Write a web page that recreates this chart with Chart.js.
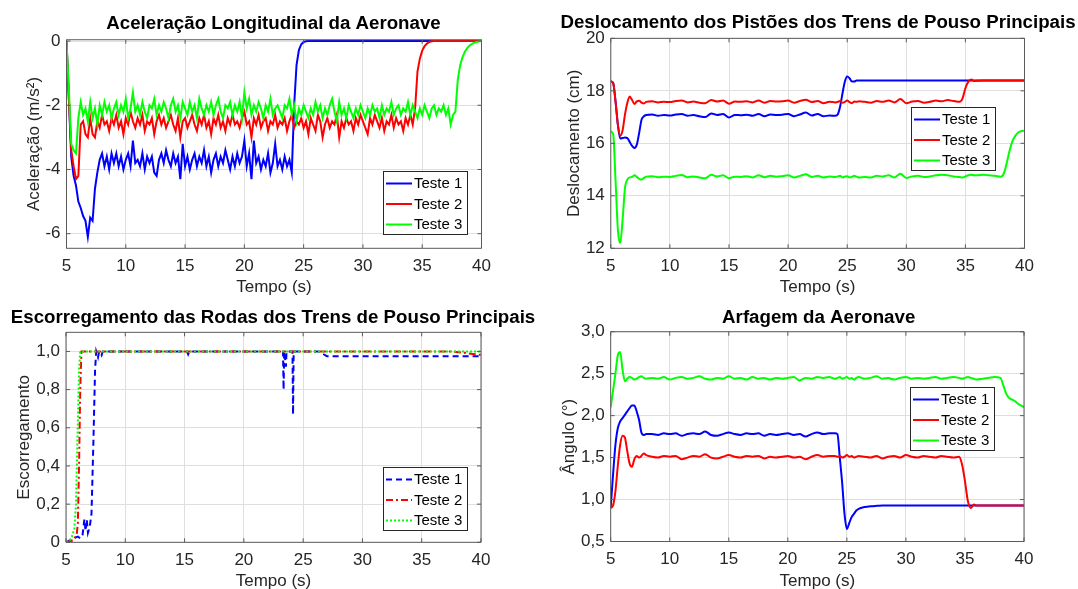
<!DOCTYPE html>
<html>
<head>
<meta charset="utf-8">
<script src="https://cdn.jsdelivr.net/npm/chart.js@4.4.0/dist/chart.umd.min.js"></script>
<style>
  html, body { margin: 0; padding: 0; background: #fff; overflow: hidden; }
  body { width: 1078px; height: 589px; position: relative; }
  canvas { position: absolute; }
</style>
</head>
<body>
<canvas id="c1" width="540" height="300" style="left:0;top:0"></canvas>
<canvas id="c2" width="538" height="300" style="left:540px;top:0"></canvas>
<canvas id="c3" width="540" height="300" style="left:0;top:295px"></canvas>
<canvas id="c4" width="538" height="300" style="left:540px;top:295px"></canvas>
<script>
/* 2x2 MATLAB-style figure: landing tests 1-3 */
const FONT = '"Liberation Sans", Arial, Helvetica, sans-serif';
const BLUE = '#0000ff', RED = '#ff0000', GREEN = '#00ff00';
const GRID = '#dfdfdf', AXIS = '#262626', BOX = '#5a5a5a';

const seriesNames = ['Teste 1', 'Teste 2', 'Teste 3'];
const timeTicks = [5, 10, 15, 20, 25, 30, 35, 40];

/* --- Aceleração longitudinal (m/s²), sampled every 0.2 s --- */
const tAcc = [5,5.2,5.4,5.6,5.8,6,6.2,6.4,6.6,6.8, 7,7.2,7.4,7.6,7.8,8,8.2,8.4,8.6,8.8,
  9,9.2,9.4,9.6,9.8,10,10.2,10.4,10.6,10.8, 11,11.2,11.4,11.6,11.8,12,12.2,12.4,12.6,12.8,
  13,13.2,13.4,13.6,13.8,14,14.2,14.4,14.6,14.8, 15,15.2,15.4,15.6,15.8,16,16.2,16.4,16.6,16.8,
  17,17.2,17.4,17.6,17.8,18,18.2,18.4,18.6,18.8, 19,19.2,19.4,19.6,19.8,20,20.2,20.4,20.6,20.8,
  21,21.2,21.4,21.6,21.8,22,22.2,22.4,22.6,22.8, 23,23.2,23.4,23.6,23.8,24,24.2,24.4,24.6,24.8,
  25,25.2,25.4,25.6,25.8,26,26.2,26.4,26.6,26.8, 27,27.2,27.4,27.6,27.8,28,28.2,28.4,28.6,28.8,
  29,29.2,29.4,29.6,29.8,30,30.2,30.4,30.6,30.8, 31,31.2,31.4,31.6,31.8,32,32.2,32.4,32.6,32.8,
  33,33.2,33.4,33.6,33.8,34,34.2,34.4,34.6,34.8, 35,35.2,35.4,35.6,35.8,36,36.2,36.4,36.6,36.8,
  37,37.2,37.4,37.6,37.8,38,38.2,38.4,38.6,38.8, 39,39.2,39.4,39.6,39.8,40];
const acc1 = [0,-1.8,-3.6,-4.2,-4.5,-5.0,-5.2,-5.45,-5.6,-6.1,
  -5.5,-5.6,-4.6,-4.1,-3.7,-3.5,-3.9,-3.6,-4.0,-3.5,
  -3.8,-3.5,-3.9,-3.6,-4.0,-3.7,-3.5,-3.9,-3.1,-3.8,
  -3.7,-3.9,-3.5,-4.0,-3.6,-3.8,-3.6,-4.1,-4.2,-3.7,
  -3.5,-3.8,-3.4,-3.7,-3.9,-3.5,-3.8,-3.6,-4.3,-3.2,
  -3.9,-3.6,-4.0,-3.7,-3.5,-3.9,-3.6,-3.8,-3.4,-3.9,
  -3.6,-4.1,-3.7,-3.5,-3.9,-3.6,-3.8,-3.4,-3.7,-4.0,
  -3.6,-3.9,-3.5,-3.8,-3.6,-3.1,-3.9,-3.5,-4.3,-3.1,
  -3.8,-3.6,-4.0,-3.7,-3.9,-3.5,-4.1,-3.8,-3.2,-3.9,
  -3.7,-4.0,-3.6,-3.9,-3.7,-4.1,-2.0,-0.75,-0.28,-0.1,
  -0.03,-0.01,0,0,0,0,0,0,0,0,
  0,0,0,0,0,0,0,0,0,0, 0,0,0,0,0,0,0,0,0,0, 0,0,0,0,0,0,0,0,0,0,
  0,0,0,0,0,0,0,0,0,0, 0,0,0,0,0,0,0,0,0,0, 0,0,0,0,0,0,0,0,0,0,
  0,0,0,0,0,0];
const acc2 = [0,-1.8,-3.4,-3.9,-4.3,-4.2,-2.6,-2.5,-2.9,-3.0,
  -2.4,-2.9,-3.0,-2.5,-2.7,-2.3,-2.6,-2.5,-2.8,-2.4,
  -2.6,-2.3,-2.7,-2.5,-2.9,-2.4,-2.6,-2.2,-2.5,-2.7,
  -2.4,-2.6,-2.3,-2.8,-2.5,-2.6,-2.4,-2.9,-2.5,-2.3,
  -2.6,-2.4,-2.7,-2.5,-2.3,-2.6,-2.8,-2.4,-3.0,-2.5,
  -2.4,-2.7,-2.5,-2.3,-2.6,-2.8,-2.4,-2.6,-2.3,-2.7,
  -2.5,-2.9,-2.4,-2.6,-2.3,-2.7,-2.5,-2.8,-2.4,-2.6,
  -2.3,-2.6,-2.5,-2.7,-2.4,-2.2,-2.6,-2.5,-3.0,-2.4,
  -2.6,-2.3,-2.7,-2.5,-2.4,-2.8,-2.5,-2.6,-2.3,-2.7,
  -2.5,-2.6,-2.4,-2.8,-2.5,-2.3,-2.7,-2.5,-2.6,-2.4,
  -2.7,-2.5,-2.9,-2.4,-2.6,-2.8,-2.3,-2.5,-3.0,-2.6,
  -2.4,-2.7,-2.5,-2.6,-2.3,-3.0,-2.5,-2.7,-2.4,-2.6,
  -2.5,-2.8,-2.4,-2.6,-2.3,-2.5,-2.7,-2.9,-2.4,-2.6,
  -2.3,-2.5,-2.7,-2.4,-2.8,-2.5,-2.6,-2.3,-2.7,-2.4,
  -2.6,-2.5,-2.8,-2.4,-2.6,-2.3,-2.6,-2.1,-0.95,-0.55,
  -0.3,-0.16,-0.08,-0.03,-0.01,0,0,0,0,0,
  0,0,0,0,0,0,0,0,0,0,
  0,0,0,0,0,0];
const acc3 = [0,-1.5,-3.2,-3.4,-3.5,-2.4,-1.9,-2.3,-2.1,-2.5,
  -1.9,-2.4,-2.1,-2.6,-2.0,-2.3,-1.9,-2.2,-2.0,-2.4,
  -2.1,-1.9,-2.3,-2.0,-2.2,-1.8,-2.4,-2.1,-1.6,-2.2,
  -2.0,-2.3,-1.9,-2.2,-2.4,-2.0,-2.1,-1.8,-2.3,-2.0,
  -2.2,-1.9,-2.1,-2.4,-2.0,-1.8,-2.2,-2.0,-2.4,-1.9,
  -2.1,-2.3,-1.9,-2.2,-2.0,-2.4,-1.8,-2.1,-2.3,-2.0,
  -2.2,-1.9,-2.3,-2.0,-1.8,-2.2,-2.4,-2.0,-2.1,-1.9,
  -2.3,-2.0,-2.2,-1.9,-2.4,-1.6,-2.1,-1.8,-2.3,-2.0,
  -2.2,-1.9,-2.1,-2.4,-2.0,-2.2,-1.8,-2.3,-2.1,-2.0,
  -2.2,-2.4,-2.0,-2.1,-1.8,-2.3,-2.0,-2.5,-2.1,-2.3,
  -2.0,-2.2,-2.4,-2.1,-2.3,-1.9,-2.2,-2.0,-2.4,-2.1,
  -2.3,-2.0,-1.8,-2.2,-2.5,-1.9,-2.3,-2.1,-2.4,-2.0,
  -2.2,-2.4,-2.1,-2.3,-2.0,-2.2,-2.4,-2.1,-2.3,-2.0,
  -2.2,-2.1,-2.4,-2.0,-2.3,-2.1,-2.2,-1.9,-2.3,-2.1,
  -2.0,-2.3,-2.1,-2.2,-1.9,-2.3,-2.0,-2.2,-2.4,-2.1,
  -2.3,-2.0,-2.2,-2.4,-2.1,-2.0,-2.3,-2.1,-2.2,-2.0,
  -2.3,-2.1,-2.6,-2.3,-2.2,-1.2,-0.75,-0.5,-0.33,-0.22,
  -0.14,-0.09,-0.05,-0.03,-0.01,0];
const accTicks = [-6, -4, -2, 0];
const accLabels = ['-6', '-4', '-2', '0'];

/* --- time base shared by the smooth signals (piston, pitch) --- */
const tSmooth = [5,5.2,5.4,5.6,5.8,6,6.2,6.4,6.6,6.8,7,7.2,7.4,7.6,7.8,8,
  8.5,9,9.5,10,10.5,11,11.5,12,12.5,13,13.5,14,14.5,15,15.5,16,16.5,17,17.5,18,18.5,19,19.5,20,20.5,21,21.5,22,22.5,23,23.5,24,
  24.2,24.4,24.6,24.8,25,25.2,25.4,25.6,25.8,26,
  26.5,27,27.5,28,28.5,29,29.5,30,30.5,31,31.5,32,32.5,33,33.5,34,34.5,
  34.75,35,35.25,35.5,35.75,36,
  36.5,37,37.5,38,
  38.25,38.5,38.75,39,39.25,39.5,39.75,40];

/* --- Deslocamento dos pistões (cm) --- */
const disp1 = [18.36,18.3,17.6,16.7,16.18,16.2,16.22,16.2,16.05,15.9,15.82,15.95,16.4,16.9,17.03,17.08,
  17.1,17.05,17.08,17.06,17.1,17.12,17.05,17.08,17.03,17.0,17.14,17.08,17.12,16.98,17.08,17.07,
  17.09,17.05,17.12,17.03,17.1,17.08,17.09,17.12,17.03,17.1,17.17,17.06,17.12,17.03,17.06,17.05,
  17.1,17.4,17.9,18.35,18.55,18.48,18.36,18.36,18.39,18.39,
  18.39,18.39,18.39,18.39,18.39,18.39,18.39,18.39,18.39,18.39,18.39,18.39,18.39,18.39,18.39,18.39,18.39,
  18.39,18.39,18.39,18.39,18.39,18.39,
  18.39,18.39,18.39,18.39,
  18.39,18.39,18.39,18.39,18.39,18.39,18.39,18.39];
const disp2 = [18.36,18.3,17.6,16.7,16.3,16.5,17.1,17.55,17.78,17.65,17.5,17.6,17.62,17.55,17.52,17.58,
  17.6,17.56,17.58,17.57,17.61,17.63,17.56,17.59,17.55,17.53,17.65,17.59,17.63,17.51,17.59,17.58,
  17.6,17.56,17.63,17.55,17.61,17.59,17.6,17.63,17.55,17.61,17.66,17.57,17.61,17.53,17.58,17.56,
  17.58,17.61,17.55,17.58,17.63,17.57,17.53,17.59,17.58,17.6,
  17.58,17.55,17.61,17.58,17.63,17.56,17.69,17.53,17.59,17.61,17.55,17.58,17.63,17.6,17.65,17.61,17.58,
  17.7,18.1,18.35,18.43,18.37,18.38,
  18.39,18.39,18.39,18.39,
  18.39,18.39,18.39,18.39,18.39,18.39,18.39,18.39];
const disp3 = [16.45,16.35,14.6,12.7,12.2,13.1,14.3,14.62,14.7,14.72,14.78,14.72,14.65,14.62,14.68,14.73,
  14.75,14.71,14.73,14.72,14.76,14.79,14.71,14.74,14.7,14.67,14.8,14.74,14.78,14.67,14.73,14.72,
  14.75,14.7,14.78,14.71,14.76,14.73,14.75,14.78,14.7,14.76,14.82,14.72,14.76,14.7,14.74,14.72,
  14.74,14.76,14.7,14.73,14.75,14.7,14.72,14.76,14.73,14.7,
  14.72,14.7,14.76,14.74,14.78,14.7,14.84,14.68,14.74,14.76,14.72,14.74,14.78,14.8,14.78,14.74,14.72,
  14.7,14.74,14.78,14.8,14.78,14.78,
  14.8,14.78,14.76,14.73,
  14.85,15.25,15.75,16.1,16.3,16.42,16.47,16.48];
const dispTicks = [12, 14, 16, 18, 20];
const dispLabels = ['12', '14', '16', '18', '20'];

/* --- Escorregamento das rodas (each test has its own time base) --- */
const slipT1 = [5,5.3,5.6,6,6.2,6.4,6.55,6.65,6.75,6.85,7,7.15,7.3,7.45,7.55,7.7,7.8,8,8.1,9.9,
  10,10.1,15.2,15.3,15.4,23.3,23.35,23.4,23.55,23.6,24.1,24.15,24.2,26.3,26.6,27,40];
const slip1 = [0,0.01,0.02,0.03,0.02,0.04,0.12,0.06,0.12,0.05,0.08,0.15,0.5,0.9,1,0.97,1,0.98,1,1,
  0.99,1,1,0.985,1,1,0.8,1,0.92,1,1,0.67,1,1,0.99,0.975,0.975];
const slipT2 = [5,5.6,5.9,6,6.1,6.2,6.3,37.5,38.5,39.5,40];
const slip2 = [0,0.01,0.04,0.1,0.4,0.8,1,1,0.993,0.985,0.982];
const slipT3 = [5,5.3,5.5,5.7,5.84,5.98,6.1,6.2,40];
const slip3 = [0,0.01,0.03,0.07,0.2,0.58,0.9,1,1];
const slipTicks = [0, 0.2, 0.4, 0.6, 0.8, 1.0];
const slipLabels = ['0', '0,2', '0,4', '0,6', '0,8', '1,0'];

/* --- Arfagem da aeronave (graus) --- */
const pitch1 = [0.91,1.3,1.65,1.85,1.93,1.97,2.01,2.05,2.09,2.12,2.12,2.05,1.95,1.8,1.77,1.78,
  1.78,1.77,1.79,1.78,1.79,1.76,1.78,1.79,1.78,1.81,1.77,1.76,1.78,1.8,1.78,1.77,
  1.79,1.78,1.79,1.76,1.78,1.77,1.78,1.79,1.77,1.78,1.75,1.78,1.8,1.78,1.79,1.79,
  1.78,1.5,1.2,0.83,0.65,0.72,0.79,0.83,0.87,0.89,
  0.91,0.92,0.925,0.928,0.93,0.93,0.93,0.93,0.93,0.93,0.93,0.93,0.93,0.93,0.93,0.93,0.93,
  0.93,0.93,0.93,0.93,0.93,0.93,
  0.93,0.93,0.93,0.93,
  0.93,0.93,0.93,0.93,0.93,0.93,0.93,0.93];
const pitch2 = [0.9,0.93,1.1,1.4,1.65,1.76,1.74,1.58,1.43,1.39,1.48,1.52,1.5,1.52,1.55,1.53,
  1.51,1.5,1.52,1.51,1.52,1.48,1.5,1.52,1.51,1.54,1.5,1.49,1.51,1.53,1.51,1.5,
  1.52,1.51,1.52,1.49,1.51,1.5,1.51,1.52,1.5,1.51,1.48,1.51,1.53,1.51,1.52,1.52,
  1.51,1.52,1.5,1.51,1.53,1.51,1.52,1.5,1.51,1.52,
  1.51,1.5,1.52,1.49,1.51,1.52,1.5,1.53,1.51,1.5,1.52,1.51,1.5,1.52,1.51,1.5,1.51,
  1.42,1.22,0.98,0.9,0.94,0.93,
  0.93,0.93,0.93,0.93,
  0.93,0.93,0.93,0.93,0.93,0.93,0.93,0.93];
const pitch3 = [2.1,2.3,2.5,2.72,2.76,2.55,2.41,2.44,2.46,2.45,2.43,2.44,2.46,2.47,2.45,2.44,
  2.45,2.44,2.46,2.43,2.45,2.46,2.44,2.45,2.47,2.44,2.43,2.45,2.44,2.47,2.44,2.45,
  2.43,2.46,2.44,2.45,2.43,2.45,2.44,2.45,2.46,2.42,2.45,2.44,2.46,2.45,2.46,2.44,
  2.45,2.46,2.44,2.45,2.46,2.44,2.45,2.43,2.45,2.46,
  2.44,2.45,2.47,2.44,2.45,2.43,2.45,2.46,2.44,2.45,2.44,2.45,2.46,2.44,2.45,2.46,2.45,
  2.44,2.45,2.46,2.45,2.44,2.43,
  2.44,2.45,2.46,2.45,
  2.36,2.26,2.21,2.19,2.17,2.14,2.12,2.1];
const pitchTicks = [0.5, 1.0, 1.5, 2.0, 2.5, 3.0];
const pitchLabels = ['0,5', '1,0', '1,5', '2,0', '2,5', '3,0'];

Chart.defaults.font.family = FONT;
Chart.defaults.color = AXIS;

const pts = (t, y) => t.map((x, i) => ({ x, y: y[i] }));

function ds(i, t, y, color, dash, smooth) {
  return { label: seriesNames[i], data: pts(t, y), yAxisID: 'y', order: 3 - i,
           borderColor: color, backgroundColor: color, borderWidth: 2, borderDash: dash || [],
           pointRadius: 0, fill: false, tension: 0,
           cubicInterpolationMode: smooth ? 'monotone' : 'default' };
}

/* box, inward ticks on all four sides (like MATLAB "box on") */
const matlabAxes = {
  id: 'matlabAxes',
  afterDatasetsDraw(chart) {
    const { ctx, chartArea: a, scales: { x, y } } = chart;
    ctx.save();
    ctx.strokeStyle = BOX;
    ctx.lineWidth = 1;
    ctx.beginPath();
    x.ticks.forEach(t => {
      const px = x.getPixelForValue(t.value);
      ctx.moveTo(px, a.bottom); ctx.lineTo(px, a.bottom - 4);
      ctx.moveTo(px, a.top); ctx.lineTo(px, a.top + 4);
    });
    y.ticks.forEach(t => {
      const py = y.getPixelForValue(t.value);
      ctx.moveTo(a.left, py); ctx.lineTo(a.left + 4, py);
      ctx.moveTo(a.right, py); ctx.lineTo(a.right - 4, py);
    });
    ctx.rect(a.left, a.top, a.right - a.left, a.bottom - a.top);
    ctx.stroke();
    ctx.restore();
  }
};

/* boxed legend inside the axes */
const boxLegend = {
  id: 'boxLegend',
  afterDraw(chart, args, o) {
    const ctx = chart.ctx;
    const w = 84, h = 63;
    ctx.save();
    ctx.fillStyle = '#fff';
    ctx.fillRect(o.left, o.top, w, h);
    ctx.strokeStyle = AXIS; ctx.lineWidth = 1;
    ctx.strokeRect(o.left + 0.5, o.top + 0.5, w, h);
    ctx.font = '15px ' + FONT;
    ctx.textBaseline = 'middle';
    chart.data.datasets.forEach((d, i) => {
      const yy = o.top + 12.5 + i * 20.5;
      ctx.strokeStyle = d.borderColor; ctx.lineWidth = d.borderWidth;
      ctx.setLineDash(d.borderDash);
      ctx.beginPath(); ctx.moveTo(o.left + 3, yy); ctx.lineTo(o.left + 29, yy); ctx.stroke();
      ctx.setLineDash([]);
      ctx.fillStyle = '#000';
      ctx.fillText(d.label, o.left + 31, yy + 0.5);
    });
    ctx.restore();
  }
};

function panel(id, c) {
  return new Chart(document.getElementById(id), {
    type: 'line',
    data: { datasets: c.datasets },
    options: {
      responsive: false, animation: false, devicePixelRatio: 1,
      layout: { padding: { left: c.padLeft, right: 0, top: 0, bottom: 0 } },
      plugins: {
        legend: { display: false }, tooltip: { enabled: false },
        title: { display: true, text: c.title, color: '#000',
                 font: { size: 18.7, weight: 'bold' }, padding: c.titlePad },
        boxLegend: c.legend
      },
      scales: {
        x: { type: 'linear', min: 5, max: 40,
             afterBuildTicks: s => { s.ticks = timeTicks.map(v => ({ value: v })); },
             afterFit: s => { s.height = c.xHeight; },
             grid: { color: GRID, drawTicks: false }, border: { display: false },
             ticks: { font: { size: 17 }, padding: 7.5, maxRotation: 0, autoSkip: false },
             title: { display: true, text: 'Tempo (s)', font: { size: 17 },
                      padding: { top: 0, bottom: c.xTitlePad } } },
        y: { type: 'linear', min: c.yMin, max: c.yMax,
             afterBuildTicks: s => { s.ticks = c.yTicks.map(v => ({ value: v })); },
             afterFit: s => { s.width = c.yWidth; },
             grid: { color: GRID, drawTicks: false }, border: { display: false },
             ticks: { font: { size: 17 }, padding: 6, autoSkip: false,
                      callback: v => c.yLabels[c.yTicks.indexOf(v)] },
             title: { display: true, text: c.yTitle, font: { size: 17 },
                      padding: { top: c.yTitlePad, bottom: 0 } } },
        yr: { position: 'right', display: true, grid: { display: false },
              border: { display: false }, ticks: { display: false },
              afterFit: s => { s.width = c.rightGap; } }
      }
    },
    plugins: [matlabAxes, boxLegend]
  });
}

panel('c1', {
  title: 'Aceleração Longitudinal da Aeronave', yTitle: 'Aceleração (m/s²)',
  yMin: -6.455, yMax: 0.04, yTicks: accTicks, yLabels: accLabels,
  padLeft: 7, yWidth: 59.5, rightGap: 58.5, xHeight: 51.7,
  titlePad: { top: 12.8, bottom: 4.5 }, yTitlePad: 17.3, xTitlePad: 2.8,
  legend: { left: 383, top: 171 },
  datasets: [ds(0, tAcc, acc1, BLUE), ds(1, tAcc, acc2, RED), ds(2, tAcc, acc3, GREEN)]
});

panel('c2', {
  title: 'Deslocamento dos Pistões dos Trens de Pouso Principais', yTitle: 'Deslocamento (cm)',
  yMin: 12, yMax: 20, yTicks: dispTicks, yLabels: dispLabels,
  padLeft: 18, yWidth: 52.8, rightGap: 53.5, xHeight: 51.7,
  titlePad: { top: 12.1, bottom: 3.8 }, yTitlePad: 6.3, xTitlePad: 2.8,
  legend: { left: 371, top: 107 },
  datasets: [ds(0, tSmooth, disp1, BLUE, null, true), ds(1, tSmooth, disp2, RED, null, true),
             ds(2, tSmooth, disp3, GREEN, null, true)]
});

panel('c3', {
  title: 'Escorregamento das Rodas dos Trens de Pouso Principais', yTitle: 'Escorregamento',
  yMin: 0, yMax: 1.1, yTicks: slipTicks, yLabels: slipLabels,
  padLeft: 6, yWidth: 60, rightGap: 59, xHeight: 52.7,
  titlePad: { top: 11.5, bottom: 3.4 }, yTitlePad: 8.6, xTitlePad: 3.8,
  legend: { left: 383, top: 172 },
  datasets: [ds(0, slipT1, slip1, BLUE, [6, 4]), ds(1, slipT2, slip2, RED, [7, 3, 2, 3]),
             ds(2, slipT3, slip3, GREEN, [2, 2])]
});

panel('c4', {
  title: 'Arfagem da Aeronave', yTitle: 'Ângulo (°)',
  yMin: 0.5, yMax: 3.0, yTicks: pitchTicks, yLabels: pitchLabels,
  padLeft: 19.4, yWidth: 51.3, rightGap: 54, xHeight: 53.5,
  titlePad: { top: 11.5, bottom: 2.8 }, yTitlePad: 0, xTitlePad: 3.8,
  legend: { left: 370, top: 92 },
  datasets: [ds(0, tSmooth, pitch1, BLUE, null, true), ds(1, tSmooth, pitch2, RED, null, true),
             ds(2, tSmooth, pitch3, GREEN, null, true)]
});
</script>
</body>
</html>
